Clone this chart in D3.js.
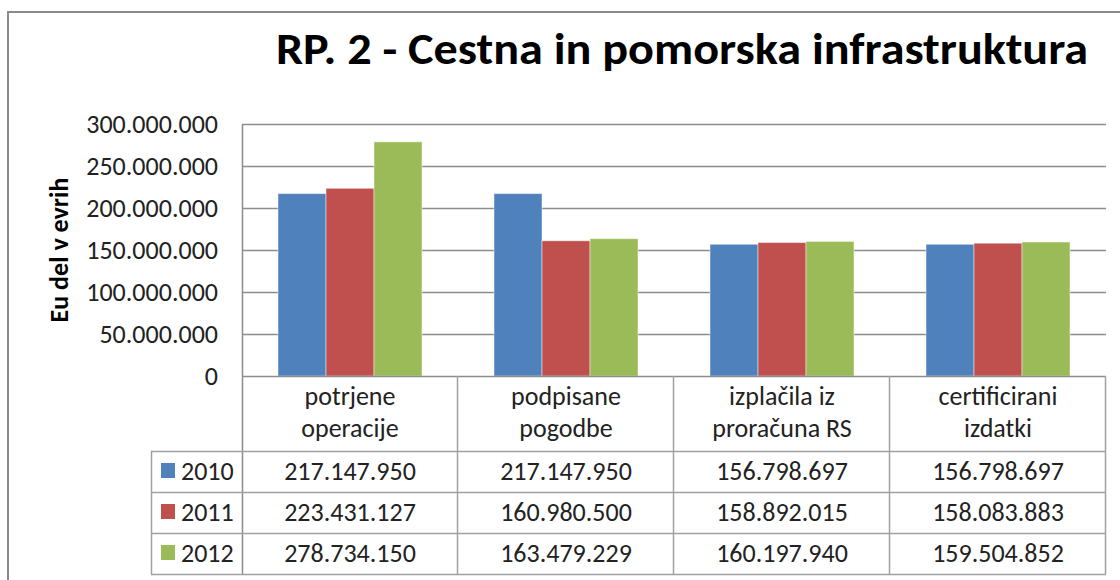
<!DOCTYPE html>
<html>
<head>
<meta charset="utf-8">
<script src="https://cdn.jsdelivr.net/npm/d3@7"></script>
<style>
  html, body { margin: 0; padding: 0; background: #fff; }
  svg { display: block; }
  text { font-family: Carlito, Calibri, "Open Sans", sans-serif; fill: #222; }
</style>
</head>
<body>
<svg id="chart" width="1120" height="580"></svg>
<script>
const title = "RP. 2 - Cestna in pomorska infrastruktura";
const yAxisTitle = "Eu del v evrih";
const categories = ["potrjene operacije", "podpisane pogodbe", "izplačila iz proračuna RS", "certificirani izdatki"];
const categoryLines = [["potrjene", "operacije"], ["podpisane", "pogodbe"], ["izplačila iz", "proračuna RS"], ["certificirani", "izdatki"]];
const years = ["2010", "2011", "2012"];
const values2010 = [217147950, 217147950, 156798697, 156798697];
const values2011 = [223431127, 160980500, 158892015, 158083883];
const values2012 = [278734150, 163479229, 160197940, 159504852];
const yTicks = [0, 50000000, 100000000, 150000000, 200000000, 250000000, 300000000];
const colors = ["#4F81BD", "#C0504D", "#9BBB59"];

const series = [values2010, values2011, values2012];

const svg = d3.select("#chart");
const locale = d3.formatLocale({ thousands: ".", grouping: [3], decimal: ",", currency: ["", ""] });
const fmt = locale.format(",.0f");
const FS = 26;

const plot = { left: 242, right: 1106, top: 124, bottom: 376 };
const tableRows = { top: 451, rowH: 41 };
const legendLeft = 151;

const x0 = d3.scaleBand().domain(categories).range([plot.left, plot.right]).paddingInner(0).paddingOuter(0);
const x1 = d3.scaleBand().domain(years).range([0, x0.bandwidth()]).paddingInner(0).paddingOuter(0.75);
const y = d3.scaleLinear().domain([0, 300000000]).range([plot.bottom, plot.top]);

// outer frame
svg.append("path")
  .attr("d", `M8,580 L8,12 L1120,12`)
  .attr("fill", "none").attr("stroke", "#8a8a8a").attr("stroke-width", 2);

// title
svg.append("text")
  .attr("x", 276).attr("y", 64)
  .attr("font-size", 45).attr("font-weight", "bold")
  .attr("textLength", 812).attr("lengthAdjust", "spacingAndGlyphs")
  .style("fill", "#000")
  .text(title);

// gridlines
svg.append("g").selectAll("line").data(yTicks.filter(d => d > 0)).join("line")
  .attr("x1", plot.left).attr("x2", plot.right)
  .attr("y1", d => Math.round(y(d)) + 0.5).attr("y2", d => Math.round(y(d)) + 0.5)
  .attr("stroke", "#8c8c8c").attr("stroke-width", 1.5);

// y axis labels
const yAxis = d3.axisLeft(y).tickValues(yTicks).tickFormat(fmt).tickSize(0).tickPadding(24);
const gy = svg.append("g").attr("transform", `translate(${plot.left},0)`).call(yAxis);
gy.select(".domain").remove();
gy.selectAll("text").attr("font-size", FS).attr("dy", "0.34em").style("font-family", 'Carlito, Calibri, "Open Sans", sans-serif').style("fill", "#222");

// y axis title
svg.append("text")
  .attr("transform", `translate(68,${(plot.top + plot.bottom) / 2}) rotate(-90)`)
  .attr("text-anchor", "middle")
  .attr("font-size", 26).attr("font-weight", "bold")
  .style("fill", "#000")
  .text(yAxisTitle);

// bars
const groups = svg.append("g").selectAll("g").data(categories).join("g")
  .attr("transform", d => `translate(${x0(d)},0)`);
groups.selectAll("rect")
  .data((c, i) => years.map((yr, j) => ({ yr, j, v: series[j][i] })))
  .join("rect")
  .attr("x", d => x1(d.yr))
  .attr("width", x1.bandwidth())
  .attr("y", d => y(d.v))
  .attr("height", d => y(0) - y(d.v))
  .attr("fill", d => colors[d.j])
  .attr("stroke", "rgba(255,255,255,0.45)")
  .attr("stroke-width", 1);

// table lines
const tl = svg.append("g").attr("stroke", "#a0a0a0").attr("stroke-width", 1.5).attr("fill", "none");
const tableBottom = tableRows.top + tableRows.rowH * years.length;
tl.append("line").attr("x1", plot.left).attr("x2", plot.right).attr("y1", plot.bottom + 0.5).attr("y2", plot.bottom + 0.5).attr("stroke", "#8c8c8c");
tl.append("line").attr("x1", plot.left + 0.5).attr("x2", plot.left + 0.5).attr("y1", plot.top).attr("y2", tableBottom).attr("stroke", "#8c8c8c");
const colEdges = categories.map(c => x0(c) + x0.bandwidth());
tl.selectAll(".v").data(colEdges).join("line")
  .attr("x1", d => d - 0.5).attr("x2", d => d - 0.5)
  .attr("y1", plot.bottom).attr("y2", tableBottom);
tl.selectAll(".h").data(d3.range(years.length + 1)).join("line")
  .attr("x1", legendLeft).attr("x2", plot.right)
  .attr("y1", i => tableRows.top + i * tableRows.rowH + 0.5)
  .attr("y2", i => tableRows.top + i * tableRows.rowH + 0.5);
tl.append("line").attr("x1", legendLeft + 0.5).attr("x2", legendLeft + 0.5).attr("y1", tableRows.top).attr("y2", tableBottom);

// category header labels
const hdr = svg.append("g").selectAll("text").data(categories).join("text")
  .attr("x", d => x0(d) + x0.bandwidth() / 2)
  .attr("text-anchor", "middle")
  .attr("font-size", FS);
hdr.each(function (d, i) {
  const t = d3.select(this);
  categoryLines[i].forEach((ln, k) => {
    t.append("tspan").attr("x", x0(d) + x0.bandwidth() / 2).attr("y", 405 + k * 32).text(ln);
  });
});

// legend rows
const lg = svg.append("g").selectAll("g").data(years).join("g")
  .attr("transform", (d, i) => `translate(${legendLeft},${tableRows.top + i * tableRows.rowH})`);
lg.append("rect").attr("x", 10).attr("y", 12).attr("width", 14).attr("height", 15).attr("fill", (d, i) => colors[i]);
lg.append("text").attr("x", 30).attr("y", 29).attr("font-size", FS).text(d => d);

// table values
years.forEach((yr, j) => {
  svg.append("g").selectAll("text").data(categories).join("text")
    .attr("x", d => x0(d) + x0.bandwidth() / 2)
    .attr("y", tableRows.top + j * tableRows.rowH + 29)
    .attr("text-anchor", "middle")
    .attr("font-size", FS)
    .text((d, i) => fmt(series[j][i]));
});
</script>
</body>
</html>
